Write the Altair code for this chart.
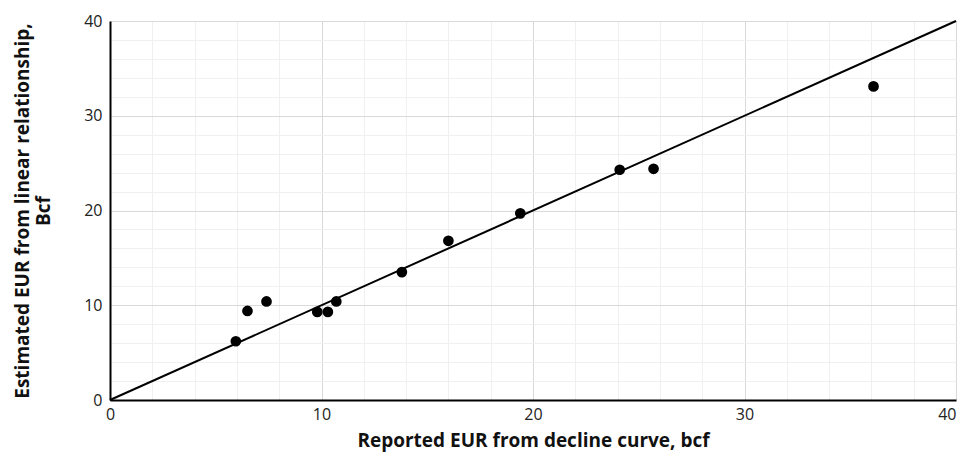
import altair as alt
import pandas as pd

reported = [5.95, 6.5, 7.4, 9.8, 10.3, 10.7, 13.8, 16.0, 19.4, 24.1, 25.7, 36.1]
estimated = [6.2, 9.4, 10.4, 9.3, 9.3, 10.4, 13.5, 16.8, 19.7, 24.3, 24.4, 33.1]
line_x = [0, 40]
line_y = [0, 40]
tick_values = list(range(0, 41, 2))

pts = pd.DataFrame({"x": reported, "y": estimated})
ln = pd.DataFrame({"x": line_x, "y": line_y})

FONT = "Open Sans"
grid_color = {"condition": {"test": "datum.value % 10 === 0", "value": "#d9d9d9"}, "value": "#f0f0f0"}
label_expr = "datum.value % 10 === 0 ? datum.label : ''"
x_label_align = {"condition": {"test": "datum.value === 40", "value": "right"}, "value": "center"}

xaxis = alt.Axis(values=tick_values, labelExpr=label_expr, gridColor=grid_color,
                 ticks=False, domainColor="black", domainWidth=2, labelOverlap=False,
                 labelFlush=False, labelAlign=x_label_align,
                 labelFont=FONT, labelFontSize=16, labelColor="#222",
                 labelPadding=6, title="Reported EUR from decline curve, bcf",
                 titleFont=FONT, titleFontSize=19, titleFontWeight="bold",
                 titleColor="#111", titlePadding=9)
yaxis = alt.Axis(values=tick_values, labelExpr=label_expr, gridColor=grid_color,
                 ticks=False, domainColor="black", domainWidth=2, labelOverlap=False,
                 labelFlush=False,
                 labelFont=FONT, labelFontSize=16, labelColor="#222",
                 labelPadding=8,
                 title=["Estimated EUR from linear relationship,", "Bcf"],
                 titleFont=FONT, titleFontSize=19, titleFontWeight="bold",
                 titleColor="#111", titlePadding=30, titleLineHeight=21)

xs = alt.Scale(domain=[0, 40], nice=False)
ys = alt.Scale(domain=[0, 40], nice=False)

enc_x = alt.X("x:Q", scale=xs, axis=xaxis)
enc_y = alt.Y("y:Q", scale=ys, axis=yaxis)

line = alt.Chart(ln).mark_line(color="black", strokeWidth=2).encode(x=enc_x, y=enc_y)
points = alt.Chart(pts).mark_circle(color="black", opacity=1, size=115).encode(x=enc_x, y=enc_y)

chart = alt.layer(line, points).properties(
    width=846, height=379,
    autosize=alt.AutoSizeParams(type="none"),
    padding={"left": 102, "top": 13, "right": 2, "bottom": 52},
).configure_view(stroke="black", strokeWidth=2).configure(background="white")

chart.save("out.html", embed_options={"renderer": "svg", "actions": False})
